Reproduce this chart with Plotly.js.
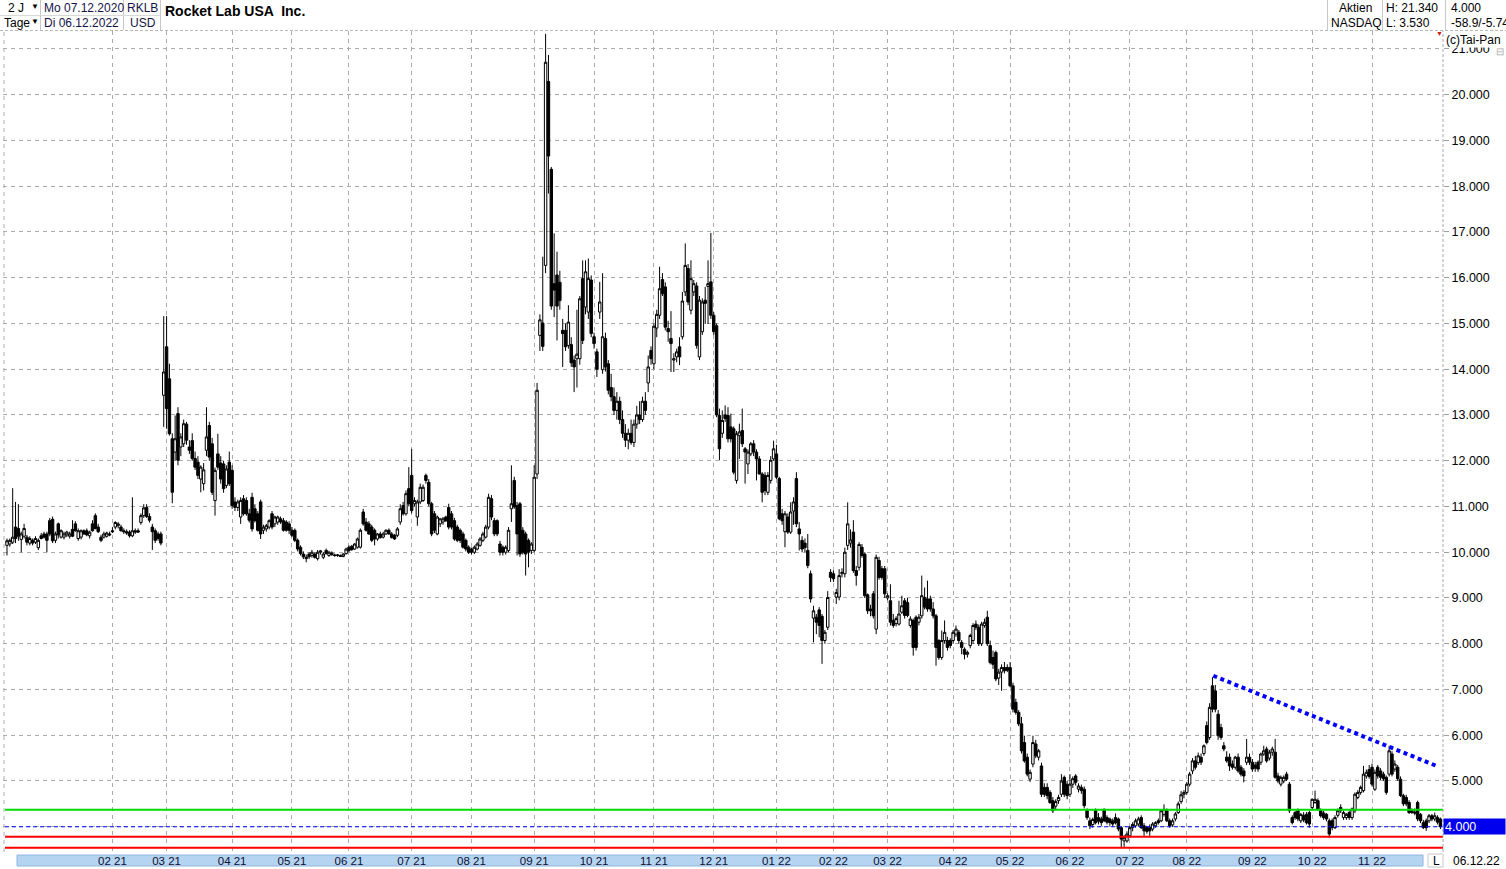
<!DOCTYPE html>
<html>
<head>
<meta charset="utf-8">
<script src="https://cdn.plot.ly/plotly-3.0.1.min.js"></script>
<style>
html,body{margin:0;padding:0;background:#fff;}
#chart{width:1506px;height:869px;}
</style>
</head>
<body>
<div id="chart"></div>
<script>
// ---- Daily OHLC of RKLB (07.12.2020 - 06.12.2022), one value per trading day ----
const open = [
10.15,10.18,10.22,10.55,10.52,10.28,10.35,10.33,10.20,10.26,
10.22,10.10,10.36,10.40,10.40,10.69,10.72,10.26,10.62,10.33,
10.33,10.38,10.35,10.50,10.62,10.30,10.33,10.47,10.47,10.36,
10.62,10.80,10.55,10.33,10.33,10.35,10.40,10.47,10.55,10.58,
10.55,10.47,10.45,10.44,10.36,10.47,10.47,10.65,10.80,10.98,
10.78,10.55,10.47,10.40,10.40,13.43,14.49,13.79,12.48,12.19,
13.03,12.30,12.37,12.80,12.30,12.44,12.05,11.97,11.60,11.50,
12.23,12.77,12.37,11.13,12.15,11.95,11.93,11.46,11.97,11.79,
11.10,10.98,10.77,11.17,11.13,10.84,11.20,10.95,10.84,11.10,
10.48,10.51,10.55,10.84,10.62,10.66,10.73,10.69,10.66,10.62,
10.48,10.48,10.26,10.11,9.96,9.86,9.96,9.93,9.96,9.86,
10.00,9.89,10.04,9.93,9.98,9.94,9.93,9.93,9.91,9.97,
10.11,10.13,10.07,10.11,10.11,10.88,10.66,10.62,10.55,10.48,
10.29,10.40,10.33,10.40,10.48,10.40,10.37,10.37,10.66,11.02,
10.84,11.39,11.68,11.06,10.77,11.10,11.13,11.68,11.53,11.06,
10.84,10.40,10.62,10.66,10.77,10.98,10.84,10.69,10.55,10.48,
10.40,10.26,10.11,10.07,10.00,10.07,10.15,10.26,10.33,10.55,
11.17,10.69,10.69,10.18,10.11,10.00,10.04,10.95,11.57,11.02,
11.06,10.48,10.40,10.26,10.04,10.04,11.71,14.74,15.01,16.27,
20.29,18.37,15.87,16.06,15.90,14.85,14.85,14.52,14.54,14.20,
14.23,14.23,15.98,15.36,15.25,15.95,14.71,14.38,15.25,13.99,
14.67,14.12,13.60,13.40,13.10,13.30,12.90,12.60,12.45,12.60,
12.40,12.80,13.00,12.90,13.30,13.70,14.41,14.12,14.90,15.18,
15.96,15.80,14.89,14.67,14.20,14.27,14.49,14.71,15.69,16.20,
15.29,15.69,15.82,14.27,14.82,15.51,15.81,15.91,15.18,14.95,
12.99,12.60,13.00,12.99,12.74,12.70,11.57,12.55,12.66,12.26,
11.93,12.15,12.37,12.19,12.04,11.71,11.68,11.31,11.57,12.04,
12.15,11.61,10.84,10.45,10.77,10.44,10.90,11.61,10.51,10.26,
10.20,10.04,9.53,8.56,8.58,8.74,8.60,8.07,8.36,9.56,
9.53,9.02,9.02,9.53,9.53,10.15,10.20,10.44,9.60,9.67,
10.11,9.96,9.07,8.76,9.09,8.32,9.82,9.64,9.64,9.00,
8.94,8.51,8.44,8.43,8.69,8.94,8.90,8.40,8.51,8.58,
8.47,8.61,9.01,8.98,8.98,8.76,8.61,8.07,7.70,8.07,
8.07,8.07,8.07,8.21,8.25,8.03,7.88,7.77,7.96,8.07,
8.43,8.36,8.00,8.40,8.58,7.96,7.70,7.81,7.25,7.38,
7.48,7.48,7.48,7.08,6.72,6.50,6.25,5.84,5.52,5.04,
5.37,5.81,5.52,5.33,4.86,4.86,4.75,4.57,4.45,4.57,
4.71,5.08,4.93,4.71,4.93,5.11,4.82,4.86,4.82,4.35,
4.13,4.05,4.35,4.20,4.17,4.38,4.20,4.17,4.13,4.20,
4.17,3.98,3.69,3.69,3.80,3.98,4.02,4.06,4.20,4.02,
3.98,3.98,3.95,4.02,4.13,4.13,4.27,4.35,4.13,4.04,
4.17,4.31,4.55,4.71,4.75,4.93,5.22,5.44,5.40,5.52,
5.60,6.21,5.95,7.08,6.97,6.46,6.17,5.77,5.52,5.52,
5.37,5.30,5.52,5.30,5.22,5.41,5.52,5.41,5.35,5.41,
5.41,5.59,5.70,5.50,5.63,5.63,5.11,4.93,5.00,5.15,
4.93,4.20,4.31,4.35,4.13,4.25,4.27,4.31,4.42,4.53,
4.57,4.35,4.30,4.27,4.13,4.13,3.98,4.25,4.42,4.20,
4.20,4.31,4.20,4.35,4.64,4.75,4.79,5.11,5.25,5.30,
4.82,5.30,5.22,5.15,5.08,5.15,5.59,5.26,5.30,5.04,
4.68,4.64,4.53,4.35,4.32,4.53,4.27,4.09,4.13,4.13,
4.24,4.17,4.20,4.17
];
const high = [
10.30,10.30,11.40,11.10,11.05,10.45,10.62,10.38,10.35,10.30,
10.35,10.30,10.42,10.45,10.45,10.75,10.78,10.45,10.65,10.50,
10.45,10.47,10.45,10.70,10.68,10.52,10.50,10.50,10.52,10.47,
10.70,10.85,10.62,10.38,10.45,10.45,10.45,10.55,10.68,10.66,
10.60,10.52,10.50,10.48,11.20,10.52,10.52,10.85,11.05,11.05,
10.85,10.62,10.52,10.45,10.45,15.16,15.16,14.12,12.60,12.99,
13.17,12.60,12.90,12.85,12.45,12.60,12.20,12.10,11.90,11.95,
13.17,12.85,12.50,11.85,12.59,12.10,12.00,11.90,12.20,11.90,
11.20,11.15,11.20,11.25,11.20,10.95,11.30,11.05,10.90,11.15,
10.60,10.62,10.72,10.90,10.80,10.80,10.78,10.75,10.70,10.68,
10.55,10.52,10.30,10.15,10.02,9.95,10.00,10.05,10.00,10.05,
10.05,10.00,10.08,10.03,10.02,9.97,9.96,9.95,9.98,10.10,
10.15,10.16,10.20,10.32,10.52,10.95,10.75,10.68,10.60,10.52,
10.42,10.45,10.45,10.50,10.52,10.44,10.40,10.55,11.05,11.10,
11.35,11.86,12.26,11.20,11.15,11.50,11.48,11.72,11.60,11.10,
10.90,10.80,10.75,10.77,10.80,11.06,10.90,10.75,10.60,10.52,
10.45,10.30,10.15,10.10,10.15,10.22,10.33,10.45,10.60,11.28,
11.25,10.75,10.72,10.25,10.15,10.15,10.55,11.90,11.65,11.10,
11.10,10.55,10.45,10.30,10.22,11.90,13.70,15.20,16.46,21.33,
20.87,18.42,16.97,16.57,16.15,15.10,15.00,15.40,14.70,14.30,
15.30,15.60,16.38,16.38,16.42,16.05,14.80,14.45,15.91,16.10,
14.80,14.20,13.90,13.60,13.50,13.40,13.10,12.80,12.70,12.90,
12.90,13.20,13.30,13.40,13.50,14.30,14.50,15.00,15.30,16.24,
16.10,15.90,15.06,15.27,14.35,14.45,14.70,15.69,16.75,16.30,
16.38,15.95,15.90,15.60,15.55,15.80,16.38,16.98,15.25,15.00,
13.14,13.10,13.21,13.17,13.03,12.75,12.65,12.81,13.14,12.30,
12.25,12.41,12.45,12.25,12.10,11.75,11.75,11.75,12.10,12.44,
12.35,11.65,10.95,10.90,10.85,11.09,11.20,11.75,10.66,10.35,
10.30,10.40,9.60,8.83,8.65,8.80,8.65,8.30,9.15,9.63,
9.60,9.20,9.63,9.65,10.10,11.09,10.50,10.70,9.70,10.22,
10.18,10.00,9.10,8.85,9.15,9.95,9.90,9.70,9.70,9.10,
9.30,8.65,8.60,8.94,9.05,9.00,9.00,8.60,8.55,8.62,
8.65,9.49,9.23,9.38,9.05,8.91,8.65,8.10,8.29,8.51,
8.15,8.12,8.30,8.40,8.30,8.08,7.92,7.85,8.22,8.45,
8.51,8.42,8.48,8.55,8.72,8.07,7.85,7.85,7.45,7.55,
7.60,7.55,7.60,7.15,6.80,6.55,6.40,5.99,5.60,5.25,
5.99,5.90,5.70,5.40,4.95,4.95,4.80,4.65,4.60,4.70,
5.15,5.12,5.00,5.15,5.10,5.15,4.95,4.92,4.88,4.40,
4.20,4.20,4.40,4.30,4.22,4.40,4.25,4.20,4.18,4.29,
4.20,4.00,3.82,3.90,4.02,4.10,4.18,4.22,4.25,4.08,
4.02,4.05,4.10,4.12,4.18,4.38,4.49,4.40,4.18,4.18,
4.32,4.55,4.78,4.80,4.98,5.20,5.50,5.55,5.62,5.60,
5.80,6.30,6.70,7.27,7.10,6.55,6.25,5.85,5.65,5.60,
5.45,5.55,5.60,5.35,5.28,5.92,5.60,5.48,5.42,5.45,
5.62,5.77,5.75,5.68,5.75,5.92,5.18,5.12,5.12,5.20,
4.98,4.25,4.35,4.40,4.30,4.32,4.32,4.35,4.62,4.79,
4.62,4.40,4.35,4.30,4.18,4.18,4.25,4.40,4.49,4.35,
4.30,4.35,4.42,4.75,4.80,4.90,5.33,5.25,5.35,5.38,
5.25,5.35,5.28,5.20,5.12,5.77,5.65,5.45,5.35,5.10,
4.72,4.70,4.58,4.40,4.40,4.57,4.30,4.15,4.18,4.28,
4.28,4.31,4.25,4.20
];
const low = [
9.93,10.12,10.18,10.20,10.25,10.00,10.30,10.15,10.15,10.15,
10.18,10.05,10.28,10.30,10.00,10.35,10.20,10.20,10.30,10.30,
10.28,10.33,10.30,10.33,10.45,10.25,10.28,10.38,10.35,10.30,
10.45,10.50,10.42,10.22,10.30,10.32,10.35,10.42,10.50,10.52,
10.45,10.40,10.38,10.32,10.33,10.40,10.42,10.60,10.75,10.75,
10.65,10.05,10.20,10.25,10.15,12.74,12.70,12.55,11.07,12.00,
11.90,12.10,12.30,12.35,12.15,12.00,11.80,11.60,11.31,11.35,
12.10,12.00,11.25,10.80,11.80,11.50,11.30,11.40,11.45,10.95,
10.90,10.90,10.62,10.80,10.80,10.65,10.45,10.65,10.45,10.29,
10.40,10.45,10.50,10.50,10.55,10.60,10.62,10.45,10.45,10.40,
10.33,10.22,10.02,9.93,9.85,9.78,9.85,9.88,9.86,9.82,
9.95,9.85,9.95,9.90,9.92,9.90,9.90,9.90,9.89,9.95,
10.00,10.03,10.05,10.08,10.08,10.58,10.45,10.38,10.22,10.15,
10.25,10.30,10.30,10.38,10.38,10.30,10.27,10.33,10.60,10.80,
10.80,11.00,10.85,11.00,10.58,11.05,11.10,11.50,11.00,10.35,
10.42,10.37,10.55,10.60,10.66,10.50,10.50,10.25,10.22,10.20,
10.08,10.02,9.96,9.95,9.96,10.04,10.12,10.22,10.30,10.50,
10.70,10.35,10.35,9.93,9.93,9.95,10.00,10.66,10.95,9.93,
9.90,9.95,9.49,9.67,9.96,10.00,11.60,14.40,14.40,16.10,
17.84,15.30,15.14,14.63,15.30,14.05,14.40,14.45,14.05,13.50,
13.60,14.10,14.55,15.20,15.10,14.70,14.45,13.83,15.10,13.90,
13.95,13.45,13.30,13.00,12.90,12.80,12.50,12.30,12.25,12.35,
12.30,12.70,12.80,12.85,13.00,13.50,14.10,14.00,14.70,15.10,
15.60,14.85,14.60,13.94,13.94,14.15,14.09,14.65,15.60,15.40,
15.20,15.60,14.45,14.20,14.75,14.99,14.99,15.10,14.75,12.95,
12.01,12.50,12.85,12.40,12.40,11.70,11.50,12.04,12.30,11.50,
11.71,12.10,12.10,11.57,11.70,11.09,11.25,11.25,11.50,12.00,
11.60,10.70,10.60,10.11,10.40,10.40,10.60,10.55,10.04,10.00,
10.00,9.65,8.90,8.03,8.21,8.14,7.56,8.00,8.30,9.35,
9.35,8.87,8.95,9.45,9.45,10.05,10.10,9.55,9.27,9.60,
9.88,9.00,8.65,8.60,8.55,8.21,9.40,9.40,9.00,8.95,
8.40,8.35,8.38,8.40,8.65,8.55,8.58,8.35,7.74,7.85,
8.40,8.55,8.75,8.70,8.70,8.55,7.52,7.65,7.65,8.00,
7.85,7.90,8.00,8.15,8.00,7.77,7.66,7.70,7.90,8.00,
8.30,7.95,7.95,8.35,7.95,7.55,7.45,7.18,7.10,6.97,
7.35,7.38,7.05,6.50,6.45,6.20,5.60,5.40,5.10,4.98,
5.30,5.50,5.45,4.65,4.65,4.60,4.50,4.30,4.38,4.50,
4.65,4.65,4.60,4.65,4.85,4.90,4.75,4.72,4.40,4.15,
3.95,3.98,4.05,4.05,4.02,4.10,4.05,4.02,4.00,4.05,
3.90,3.53,3.56,3.65,3.75,3.90,3.98,4.00,3.95,3.80,
3.85,3.80,3.90,3.98,4.05,4.10,4.22,4.10,3.98,4.00,
4.12,4.28,4.50,4.62,4.70,4.88,5.15,5.25,5.35,5.35,
5.55,5.80,5.90,6.50,6.50,5.90,5.90,5.65,5.40,5.22,
5.25,5.25,5.18,5.10,4.97,5.35,5.35,5.20,5.20,5.20,
5.35,5.55,5.40,5.45,5.55,5.05,4.95,4.88,4.95,5.00,
4.30,4.05,4.15,4.12,4.08,4.10,4.05,3.98,4.38,4.50,
4.35,4.20,4.15,4.12,3.76,3.92,3.95,4.20,4.30,4.15,
4.15,4.15,4.15,4.30,4.60,4.70,4.75,5.05,5.05,4.88,
4.78,5.05,5.02,5.00,4.70,5.10,5.10,5.20,5.00,4.65,
4.45,4.45,4.28,4.28,4.25,4.12,4.08,3.95,3.91,4.08,
4.12,4.12,4.05,3.95
];
const close = [
10.25,10.26,10.33,10.30,10.35,10.40,10.52,10.22,10.30,10.20,
10.30,10.26,10.30,10.33,10.26,10.40,10.25,10.40,10.38,10.47,
10.40,10.44,10.40,10.35,10.47,10.47,10.47,10.40,10.38,10.44,
10.47,10.52,10.45,10.26,10.40,10.42,10.38,10.45,10.65,10.62,
10.47,10.45,10.42,10.36,10.47,10.44,10.44,10.80,10.97,10.78,
10.70,10.45,10.26,10.30,10.20,13.94,13.14,12.59,11.31,12.48,
12.01,12.52,12.81,12.45,12.23,12.05,11.86,11.68,11.86,11.80,
12.52,12.08,11.31,11.79,11.86,11.60,11.39,11.82,11.50,11.02,
10.98,11.10,11.13,10.84,10.84,10.70,10.51,10.69,10.48,10.40,
10.55,10.58,10.69,10.55,10.77,10.77,10.66,10.48,10.48,10.48,
10.37,10.26,10.07,9.97,9.90,9.89,9.90,10.00,9.89,10.00,
10.03,9.96,9.97,10.00,9.95,9.93,9.94,9.91,9.96,10.07,
10.04,10.06,10.18,10.29,10.48,10.62,10.48,10.40,10.26,10.29,
10.40,10.32,10.40,10.48,10.40,10.32,10.29,10.51,10.95,10.84,
11.28,11.06,10.91,11.13,11.10,11.42,11.42,11.57,11.06,10.40,
10.48,10.77,10.73,10.73,10.69,10.55,10.55,10.29,10.26,10.26,
10.11,10.07,10.00,10.00,10.11,10.18,10.29,10.40,10.55,11.20,
10.77,10.40,10.40,10.00,10.00,10.11,10.48,11.06,10.99,10.40,
9.96,10.00,9.96,10.00,10.18,11.64,13.54,15.08,14.50,20.71,
18.66,15.38,15.73,15.38,15.50,14.78,14.49,15.03,14.14,14.05,
14.33,15.54,14.63,16.13,15.98,14.78,14.56,14.00,15.47,14.71,
14.05,13.54,13.40,13.10,13.30,12.90,12.60,12.45,12.60,12.40,
12.80,13.00,12.90,13.30,13.10,14.05,14.23,14.94,15.20,15.76,
15.65,14.92,14.82,14.56,14.23,14.38,14.27,15.49,16.27,15.47,
15.98,15.87,14.52,15.51,15.47,15.44,15.87,15.18,14.82,13.00,
12.26,12.88,12.92,12.48,12.48,11.75,12.59,12.63,12.37,12.19,
12.19,12.37,12.19,12.04,11.71,11.31,11.35,11.68,12.01,12.26,
11.64,10.73,10.69,10.84,10.44,10.88,11.10,10.62,10.40,10.07,
10.10,9.71,8.98,8.72,8.47,8.40,8.07,8.25,9.01,9.45,
9.42,9.12,9.49,9.56,10.00,10.62,10.27,9.60,9.49,10.17,
9.93,9.05,8.72,8.72,8.61,9.89,9.45,9.45,9.09,9.05,
8.47,8.40,8.55,8.65,8.83,8.62,8.62,8.54,7.92,7.92,
8.58,9.05,8.80,8.76,8.76,8.61,7.92,7.70,8.07,8.25,
7.92,7.96,8.25,8.32,8.07,7.92,7.77,7.81,8.18,8.40,
8.36,8.00,8.43,8.47,8.00,7.59,7.55,7.23,7.38,7.48,
7.41,7.42,7.08,6.57,6.50,6.25,5.66,5.44,5.15,5.19,
5.84,5.55,5.66,4.71,4.71,4.68,4.53,4.35,4.55,4.64,
5.00,4.71,4.68,4.93,5.05,4.97,4.89,4.79,4.46,4.20,
4.02,4.16,4.09,4.12,4.09,4.13,4.10,4.09,4.06,4.09,
3.95,3.73,3.76,3.84,3.98,4.05,4.13,4.17,3.98,3.91,
3.90,3.91,4.06,4.09,4.09,4.35,4.38,4.13,4.02,4.13,
4.28,4.50,4.70,4.75,4.93,5.15,5.44,5.30,5.55,5.41,
5.77,5.84,6.61,6.57,6.57,5.99,5.95,5.70,5.44,5.33,
5.30,5.52,5.22,5.15,5.11,5.52,5.41,5.26,5.28,5.26,
5.59,5.66,5.44,5.63,5.70,5.08,5.00,5.08,5.08,5.04,
4.35,4.09,4.20,4.17,4.27,4.15,4.09,4.06,4.60,4.60,
4.39,4.24,4.20,4.17,3.84,3.98,4.20,4.35,4.35,4.31,
4.27,4.20,4.39,4.71,4.75,4.86,5.15,5.19,5.10,4.93,
5.19,5.11,5.08,5.05,4.75,5.66,5.15,5.37,5.05,4.68,
4.50,4.50,4.31,4.31,4.30,4.17,4.13,3.98,3.98,4.24,
4.17,4.24,4.10,4.00
];

// month ticks: trading-day index of the first session of each month, and labels
const monthTickIdx  = [37,56,79,100,120,142,163,185,206,227,248,270,290,309,332,352,373,394,414,437,458,479];
const monthTickText = ["02 21","03 21","04 21","05 21","06 21","07 21","08 21","09 21","10 21","11 21","12 21",
                       "01 22","02 22","03 22","04 22","05 22","06 22","07 22","08 22","09 22","10 22","11 22"];
const priceTicks = [4,5,6,7,8,9,10,11,12,13,14,15,16,17,18,19,20,21];

// drawn analysis lines
const greenLevel = 4.37;
const redLevels = [3.78, 3.54];
const lastPrice = 4.00;
const trendX = [423.3, 501.6];
const trendY = [7.30, 5.33];

// ---- figure ----
const W = 1506, H = 869, ML = 3, MR = 63, MT = 31, MB = 17;
const PW = W - ML - MR, PH = H - MT - MB;
const px = v => (v - ML) / PW;            // pixel -> paper x
const py = v => (H - MB - v) / PH;        // pixel -> paper y
const FONT = 'Arial, "Liberation Sans", sans-serif';

const xIdx = close.map((_, i) => i);

const traces = [
  {
    type: 'candlestick', x: xIdx, open: open, high: high, low: low, close: close,
    increasing: {line: {color: '#000000', width: 1}, fillcolor: '#ffffff'},
    decreasing: {line: {color: '#000000', width: 1}, fillcolor: '#000000'},
    whiskerwidth: 0, hoverinfo: 'skip', showlegend: false
  },
  {
    type: 'scatter', mode: 'lines', x: trendX, y: trendY,
    line: {color: '#0000ff', width: 4, dash: '4px,3.6px'},
    hoverinfo: 'skip', showlegend: false
  }
];

const shapes = [];
// horizontal analysis lines (above candles)
shapes.push({type: 'line', xref: 'paper', yref: 'y', x0: px(5), x1: 1, y0: lastPrice, y1: lastPrice,
  line: {color: '#0000ff', width: 1, dash: '4px,3px'}, layer: 'above'});
shapes.push({type: 'line', xref: 'paper', yref: 'y', x0: px(5), x1: 1, y0: greenLevel, y1: greenLevel,
  line: {color: '#00dd00', width: 2}, layer: 'above'});
redLevels.forEach(v => shapes.push({type: 'line', xref: 'paper', yref: 'y', x0: px(5), x1: 1, y0: v, y1: v,
  line: {color: '#ff0000', width: 2}, layer: 'above'}));
// frame lines
shapes.push({type: 'line', xref: 'paper', yref: 'paper', x0: 1, x1: 1, y0: 0, y1: 1,
  line: {color: '#a8a8a8', width: 1, dash: '3px,2px'}});
shapes.push({type: 'line', xref: 'paper', yref: 'paper', x0: px(4), x1: px(4), y0: 0, y1: 1,
  line: {color: '#b0a8b0', width: 1, dash: '4px,4px'}});
shapes.push({type: 'line', xref: 'paper', yref: 'paper', x0: px(0), x1: px(1506), y0: py(30.5), y1: py(30.5),
  line: {color: '#b8b8b8', width: 1, dash: '3px,2px'}});
// header cell separators
[40.5, 123.5, 160.5].forEach(x => shapes.push({type: 'line', xref: 'paper', yref: 'paper',
  x0: px(x), x1: px(x), y0: py(0), y1: py(30), line: {color: '#c8c8c8', width: 1}}));
[1327.5, 1382.5, 1445.5].forEach(x => shapes.push({type: 'line', xref: 'paper', yref: 'paper',
  x0: px(x), x1: px(x), y0: py(0), y1: py(30), line: {color: '#c8c8c8', width: 1}}));
shapes.push({type: 'line', xref: 'paper', yref: 'paper', x0: px(0), x1: px(160), y0: py(15.5), y1: py(15.5),
  line: {color: '#d8d8d8', width: 1}});
// bottom time band
shapes.push({type: 'rect', xref: 'paper', yref: 'paper', x0: px(17), x1: px(1423), y0: py(855), y1: py(866),
  fillcolor: '#b4d4f2', line: {color: '#8fb4de', width: 1}, layer: 'below'});
shapes.push({type: 'rect', xref: 'paper', yref: 'paper', x0: px(1428), x1: px(1443), y0: py(854), y1: py(867),
  fillcolor: '#ffffff', line: {color: '#c8c8c8', width: 1}, layer: 'below'});

const ann = [];
const txt = (x, y, t, o = {}) => ann.push(Object.assign({
  xref: 'paper', yref: 'paper', x: px(x), y: py(y), text: t, showarrow: false,
  xanchor: 'left', yanchor: 'middle', font: {family: FONT, size: 12, color: '#000'}
}, o));
txt(6, 8, '2 J');
txt(29, 7, '▼', {font: {family: FONT, size: 8, color: '#000'}});
txt(2, 23, 'Tage');
txt(29, 22, '▼', {font: {family: FONT, size: 8, color: '#000'}});
txt(42, 8, 'Mo 07.12.2020', {font: {family: FONT, size: 12, color: '#14144a'}});
txt(42, 23, 'Di 06.12.2022', {font: {family: FONT, size: 12, color: '#14144a'}});
txt(125, 8, 'RKLB', {font: {family: FONT, size: 12, color: '#14144a'}});
txt(128, 23, 'USD', {font: {family: FONT, size: 12, color: '#14144a'}});
txt(163, 11, '<b>Rocket Lab USA  Inc.</b>', {font: {family: FONT, size: 14, color: '#000'}});
txt(1337, 8, 'Aktien');
txt(1329, 23, 'NASDAQ');
txt(1384, 8, 'H: 21.340');
txt(1384, 23, 'L: 3.530');
txt(1449, 8, '4.000');
txt(1449, 23, '-58.9/-5.74');
txt(1434, 34, '▼', {font: {family: FONT, size: 7, color: '#cc2222'}});
txt(1445, 40, '(c)Tai-Pan', {bgcolor: '#ffffff', borderpad: 0});
txt(1494, 52, '⊟', {font: {family: FONT, size: 10, color: '#aaaaaa'}});
// last-price box on the axis
ann.push({xref: 'paper', yref: 'y', x: 1, y: lastPrice, text: '4.000', showarrow: false,
  xanchor: 'left', yanchor: 'middle', bgcolor: '#0000ee', width: 59, height: 13, align: 'left',
  borderpad: 1, font: {family: FONT, size: 12.5, color: '#ffffff'}});
txt(1431, 861, 'L');
txt(1451, 861, '06.12.22');

const layout = {
  width: W, height: H,
  margin: {l: ML, r: MR, t: MT, b: MB, pad: 0},
  paper_bgcolor: '#ffffff', plot_bgcolor: '#ffffff',
  showlegend: false, dragmode: false,
  boxgap: 0.15, boxgroupgap: 0,
  font: {family: FONT, size: 12, color: '#000'},
  xaxis: {
    range: [-1.4, 503.9], rangeslider: {visible: false}, fixedrange: true,
    tickmode: 'array', tickvals: monthTickIdx, ticktext: monthTickText,
    ticks: '', ticklen: 0, tickfont: {family: FONT, size: 11.5, color: '#101030'},
    showgrid: true, gridcolor: '#b4a6b8', gridwidth: 1, griddash: '4px,4px',
    zeroline: false, showline: false
  },
  yaxis: {
    side: 'right', range: [3.448, 21.393], fixedrange: true,
    tickmode: 'array', tickvals: priceTicks,
    ticktext: priceTicks.map(v => v === lastPrice ? '' : v.toFixed(3)),
    ticks: 'outside', ticklen: 5, tickcolor: '#a0a0a0',
    tickfont: {family: FONT, size: 12.5, color: '#000'},
    showgrid: true, gridcolor: '#a6b0a6', gridwidth: 1, griddash: '4px,4px',
    zeroline: false, showline: false
  },
  shapes: shapes,
  annotations: ann
};

Plotly.newPlot('chart', traces, layout, {staticPlot: true, displayModeBar: false});
</script>
</body>
</html>
